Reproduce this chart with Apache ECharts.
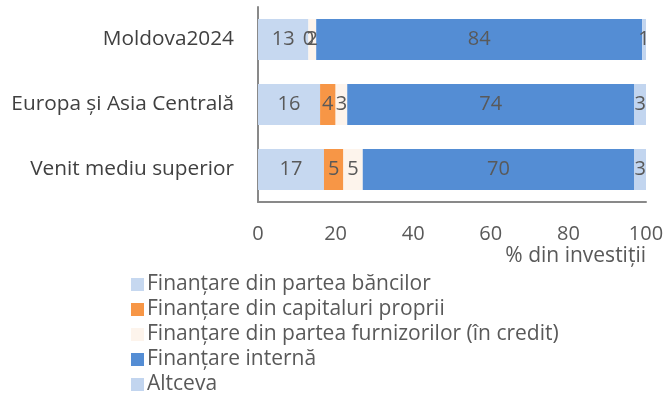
<!DOCTYPE html>
<html>
<head>
<meta charset="utf-8">
<script src="https://cdn.jsdelivr.net/npm/echarts@6/dist/echarts.min.js"></script>
<style>
  html, body { margin: 0; padding: 0; background: #fff; }
  #chart { width: 665px; height: 410px; }
</style>
</head>
<body>
<div id="chart"></div>
<script>
const categories = ['Moldova2024', 'Europa și Asia Centrală', 'Venit mediu superior'];
const seriesNames = [
  'Finanțare din partea băncilor',
  'Finanțare din capitaluri proprii',
  'Finanțare din partea furnizorilor (în credit)',
  'Finanțare internă',
  'Altceva'
];
const banci = [13, 16, 17];
const capitaluri = [0, 4, 5];
const furnizori = [2, 3, 5];
const interna = [84, 74, 70];
const altceva = [1, 3, 3];
const xTicks = [0, 20, 40, 60, 80, 100];

const colors = ['#c6d8f0', '#f79646', '#fdf4ec', '#548dd4', '#c2d5ef'];
const values = [banci, capitaluri, furnizori, interna, altceva];
const font = 'Open Sans';

const myChart = echarts.init(document.getElementById('chart'));
const option = {
  animation: false,
  textStyle: { fontFamily: font },
  grid: { left: 258, right: 19, top: 7, bottom: 208, outerBoundsMode: 'none', containLabel: false },
  legend: {
    orient: 'vertical',
    left: 126,
    top: 269,
    itemWidth: 13,
    itemHeight: 13,
    itemGap: 4,
    icon: 'rect',
    textStyle: { fontSize: 21, lineHeight: 21, color: '#595959', fontFamily: font, padding: [0, 0, 0, -2] },
    data: seriesNames
  },
  xAxis: {
    type: 'value',
    min: 0,
    max: 100,
    interval: 20,
    name: '% din investiții',
    nameLocation: 'end',
    nameGap: 0,
    nameMoveOverlap: false,
    nameTextStyle: { fontSize: 21, color: '#595959', align: 'right', verticalAlign: 'top', padding: [44, 0, 0, 0] },
    axisLine: { show: true, lineStyle: { color: '#898989', width: 2 } },
    axisTick: { show: false },
    splitLine: { show: false },
    axisLabel: {
      fontSize: 20, color: '#595959', margin: 22,
      formatter: v => xTicks.includes(v) ? String(v) : ''
    }
  },
  yAxis: {
    type: 'category',
    inverse: true,
    data: categories,
    axisLine: { show: true, lineStyle: { color: '#898989', width: 2 } },
    axisTick: { show: false },
    axisLabel: { fontSize: 20.8, color: '#404040', margin: 24 }
  },
  series: seriesNames.map((name, i) => ({
    name: name,
    type: 'bar',
    stack: 'total',
    barCategoryGap: '37%',
    data: values[i],
    itemStyle: { color: colors[i] },
    label: {
      show: true,
      position: 'inside',
      fontSize: 20,
      color: '#595959',
      fontFamily: font
    }
  }))
};
myChart.setOption(option);
window.addEventListener('resize', () => {
  myChart.resize();
});
</script>
</body>
</html>
